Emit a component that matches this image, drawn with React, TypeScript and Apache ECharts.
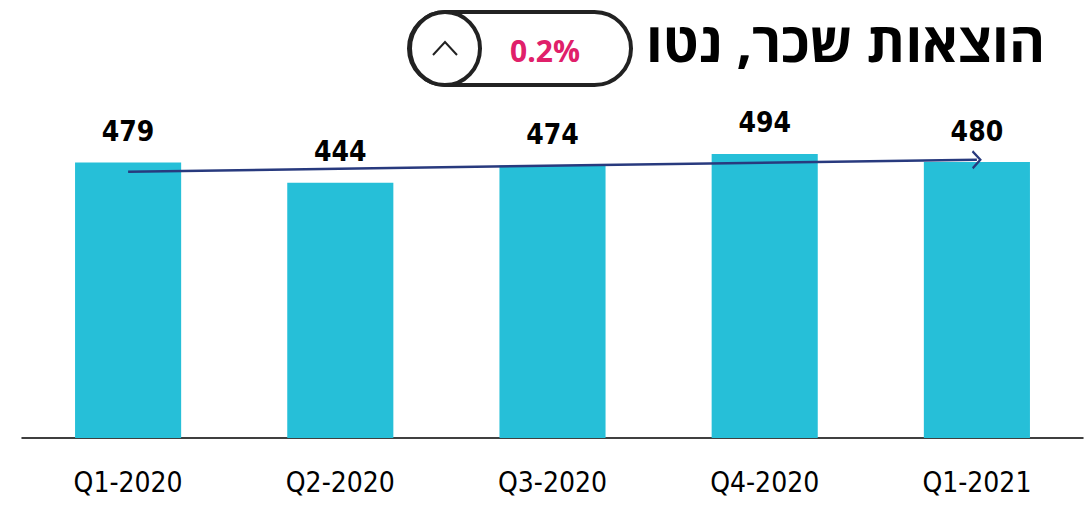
import React, { useEffect, useRef } from "react";
import * as echarts from "echarts";

const categories = ["Q1-2020", "Q2-2020", "Q3-2020", "Q4-2020", "Q1-2021"];
const values = [479, 444, 474, 494, 480];
const trendStart = 463;
const trendEnd = 484;
const titleText = "הוצאות שכר, נטו";
const changeText = "0.2%";

export default function App() {
  const ref = useRef<HTMLDivElement>(null);
  useEffect(() => {
    document.body.style.margin = "0";
    const chart = echarts.init(ref.current!, null, { renderer: "svg" });
    const narrow = "'Liberation Sans Narrow', 'DejaVu Sans Condensed', 'Noto Sans', sans-serif";
    chart.setOption({
      animation: false,
      backgroundColor: "#ffffff",
      grid: { left: 22, right: 6, top: 93, bottom: 67, containLabel: false },
      xAxis: {
        type: "category",
        data: categories,
        axisLine: { show: true, lineStyle: { color: "#000000", width: 1.5 } },
        axisTick: { show: false },
        axisLabel: { color: "#000000", fontSize: 28, fontFamily: narrow, margin: 30 },
      },
      yAxis: {
        type: "value",
        min: 0,
        max: 600,
        show: false,
        splitLine: { show: false },
      },
      series: [
        {
          type: "bar",
          data: values,
          barWidth: "50%",
          itemStyle: { color: "#26BFD8" },
          label: {
            show: true,
            position: "top",
            distance: 17,
            color: "#000000",
            fontSize: 28,
            fontWeight: "bold",
            fontFamily: narrow,
          },
          markLine: {
            silent: true,
            symbol: ["none", "path://M0,10 L10,0 L20,10 L18,11.6 L10,3.6 L2,11.6 Z"],
            symbolSize: [19, 10],
            label: { show: false },
            lineStyle: { color: "#283A7E", width: 2.5, type: "solid" },
            data: [
              [
                { coord: [0, trendStart] },
                { coord: [3.97, trendEnd] },
              ],
            ],
          },
        },
      ],
      graphic: [
        {
          type: "text",
          right: 44,
          top: 13,
          style: {
            text: titleText,
            fontSize: 55,
            fontWeight: "bold",
            fontFamily: "'Open Sans', 'DejaVu Sans', sans-serif",
            fill: "#000000",
          },
        },
        {
          type: "rect",
          shape: { x: 409, y: 12, width: 222, height: 73, r: 36.5 },
          style: { fill: "#ffffff", stroke: "#222222", lineWidth: 4 },
        },
        {
          type: "ellipse",
          shape: { cx: 445, cy: 48.5, rx: 35, ry: 36.5 },
          style: { fill: "#ffffff", stroke: "#222222", lineWidth: 4 },
        },
        {
          type: "polyline",
          shape: { points: [[433, 55], [445, 42], [457, 55]] },
          style: { stroke: "#222222", lineWidth: 2, fill: null },
        },
        {
          type: "text",
          x: 545,
          y: 50,
          style: {
            text: changeText,
            fontSize: 30,
            fontWeight: "bold",
            fontFamily: "'Open Sans', 'Noto Sans', sans-serif",
            fill: "#E0206A",
            align: "center",
            verticalAlign: "middle",
          },
        },
      ],
    });
    return () => chart.dispose();
  }, []);
  return <div ref={ref} style={{ width: 1089, height: 505 }} />;
}
